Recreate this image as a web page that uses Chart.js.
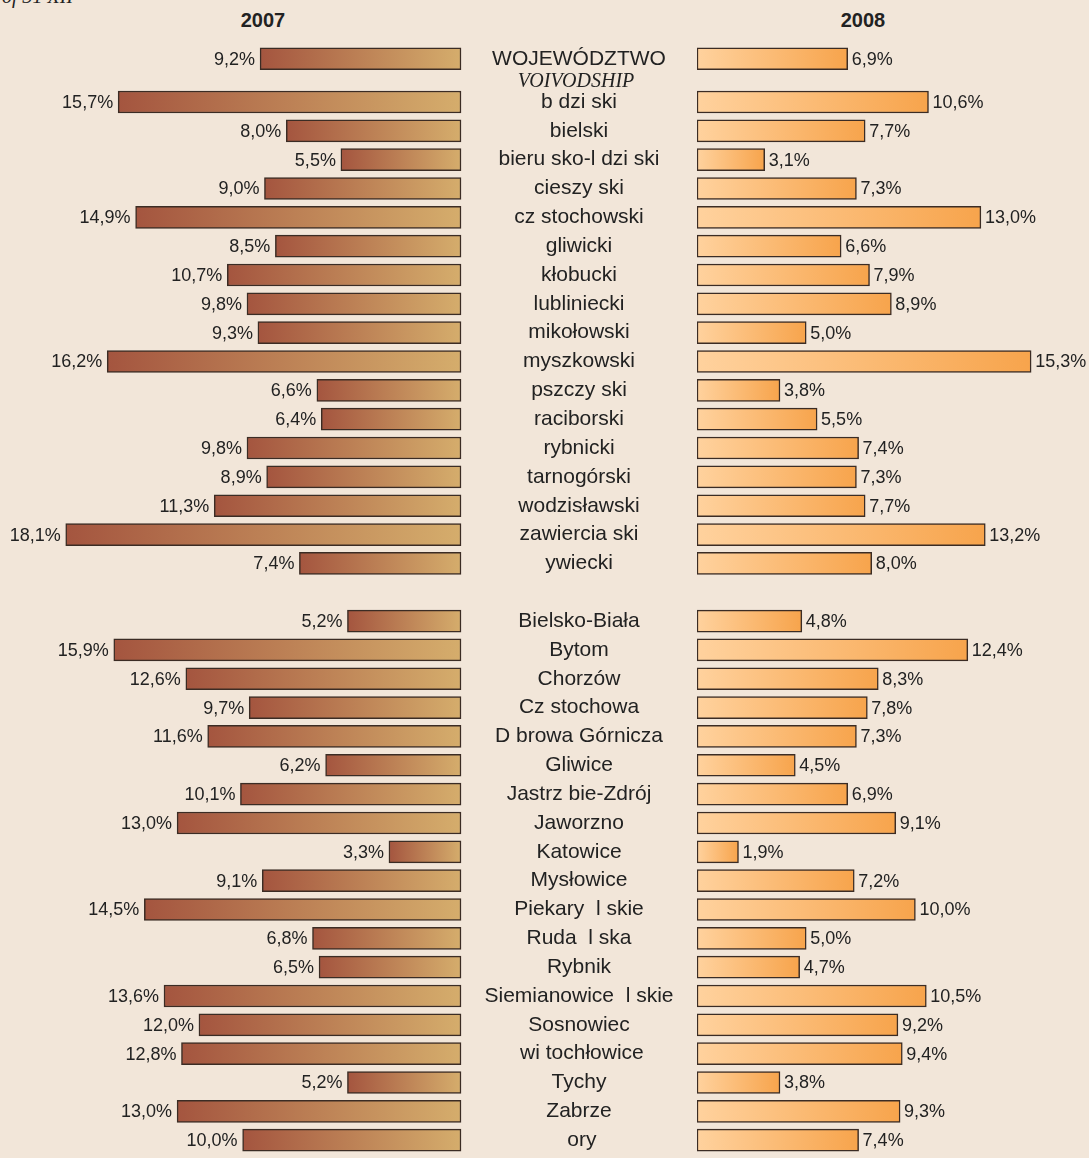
<!DOCTYPE html>
<html>
<head>
<meta charset="utf-8">
<script src="https://cdn.jsdelivr.net/npm/chart.js@4.4.1/dist/chart.umd.min.js"></script>
<style>
html,body{margin:0;padding:0;background:#f2e6d9;width:1089px;height:1158px;overflow:hidden;position:relative}
#w1{position:absolute;left:0;top:0;width:697px;height:1158px}
#w2{position:absolute;left:697px;top:0;width:392px;height:1158px}
.yr{position:absolute;top:10px;width:120px;text-align:center;font-family:"Liberation Sans",Arial,sans-serif;font-weight:bold;font-size:20px;line-height:20px;color:#222}
.it{position:absolute;font-family:"Liberation Serif","Times New Roman",serif;font-style:italic;font-size:20px;line-height:20px;color:#222;white-space:pre}
</style>
</head>
<body>
<div class="it" style="left:2px;top:-14px">of 31 XII</div>
<div class="yr" style="left:203px">2007</div>
<div class="yr" style="left:803px">2008</div>
<div id="w1"><canvas id="c1"></canvas></div>
<div id="w2"><canvas id="c2"></canvas></div>
<div class="it" style="left:476px;top:70px;width:200px;text-align:center">VOIVODSHIP</div>
<script>
// ---- data ----
const headerLabel = 'WOJEWÓDZTWO';
const header2007 = 9.2;
const header2008 = 6.9;

const powiatLabels = ['b dzi ski','bielski','bieru sko-l dzi ski','cieszy ski','cz stochowski','gliwicki','kłobucki','lubliniecki','mikołowski','myszkowski','pszczy ski','raciborski','rybnicki','tarnogórski','wodzisławski','zawiercia ski','ywiecki'];
const powiat2007 = [15.7,8.0,5.5,9.0,14.9,8.5,10.7,9.8,9.3,16.2,6.6,6.4,9.8,8.9,11.3,18.1,7.4];
const powiat2008 = [10.6,7.7,3.1,7.3,13.0,6.6,7.9,8.9,5.0,15.3,3.8,5.5,7.4,7.3,7.7,13.2,8.0];

const cityLabels = ['Bielsko-Biała','Bytom','Chorzów','Cz stochowa','D browa Górnicza','Gliwice','Jastrz bie-Zdrój','Jaworzno','Katowice','Mysłowice','Piekary  l skie','Ruda  l ska','Rybnik','Siemianowice  l skie','Sosnowiec',' wi tochłowice','Tychy','Zabrze',' ory'];
const city2007 = [5.2,15.9,12.6,9.7,11.6,6.2,10.1,13.0,3.3,9.1,14.5,6.8,6.5,13.6,12.0,12.8,5.2,13.0,10.0];
const city2008 = [4.8,12.4,8.3,7.8,7.3,4.5,6.9,9.1,1.9,7.2,10.0,5.0,4.7,10.5,9.2,9.4,3.8,9.3,7.4];

// ---- table built for the library (half-row slots, blanks as spacers) ----
const labels = [], d07 = [], d08 = [];
function push(l, a, b){ labels.push(l); d07.push(a); d08.push(b); }
function gap(n){ for (let i = 0; i < n; i++) push('', null, null); }
push(headerLabel, header2007, header2008);
gap(2);
powiatLabels.forEach((l, i) => { if (i) gap(1); push(l, powiat2007[i], powiat2008[i]); });
gap(3);
cityLabels.forEach((l, i) => { if (i) gap(1); push(l, city2007[i], city2008[i]); });

const FONT = '"Liberation Sans", Arial, sans-serif';
const LABEL_SIZE = 21;
const PAD = {top: 51.5, bottom: 10.6, left: 0, right: 0};

// measure widest label to centre labels inside the 236px middle column
const mctx = document.createElement('canvas').getContext('2d');
mctx.font = LABEL_SIZE + 'px ' + FONT;
let widest = 0;
labels.forEach(l => { widest = Math.max(widest, mctx.measureText(l).width); });
const midPad = Math.max(0, (236 - widest) / 2);

function grad(c0, c1){
  return function(ctx){
    const chart = ctx.chart;
    const v = ctx.raw;
    const xs = chart.scales && chart.scales.x;
    if (v == null || !xs || !chart.chartArea) return c0;
    const p0 = xs.getPixelForValue(0), p1 = xs.getPixelForValue(v);
    const lo = Math.min(p0, p1), hi = Math.max(p0, p1);
    if (!isFinite(lo) || !isFinite(hi) || hi - lo < 1) return c0;
    const g = chart.ctx.createLinearGradient(lo, 0, hi, 0);
    g.addColorStop(0, c0);
    g.addColorStop(1, c1);
    return g;
  };
}

const valueLabels = {
  id: 'valueLabels',
  afterDatasetsDraw(chart, args, opts){
    const ctx = chart.ctx;
    const meta = chart.getDatasetMeta(0);
    const data = chart.data.datasets[0].data;
    ctx.save();
    ctx.font = '18px ' + FONT;
    ctx.fillStyle = '#222';
    ctx.textBaseline = 'middle';
    ctx.textAlign = opts.side === 'left' ? 'right' : 'left';
    meta.data.forEach((el, i) => {
      const v = data[i];
      if (v == null) return;
      const x = opts.side === 'left' ? el.x - 5 : el.x + 4;
      ctx.fillText(v.toFixed(1).replace('.', ',') + '%', x, el.y + 1);
    });
    ctx.restore();
  }
};

const common = {
  responsive: true,
  maintainAspectRatio: false,
  animation: false,
  indexAxis: 'y',
  layout: {padding: PAD}
};

new Chart(document.getElementById('c1'), {
  type: 'bar',
  data: {
    labels: labels,
    datasets: [{
      label: '2007',
      data: d07,
      backgroundColor: grad('#a4553f', '#d5ad6c'),
      borderColor: '#3b2c24',
      borderWidth: 1.5,
      borderSkipped: false,
      barThickness: 22,
      clip: false
    }]
  },
  options: Object.assign({}, common, {
    plugins: {legend: {display: false}, tooltip: {enabled: false}, valueLabels: {side: 'left'}},
    scales: {
      x: {display: false, reverse: true, min: 0, max: 21.11},
      y: {
        position: 'right',
        grid: {display: false, drawTicks: false},
        border: {display: false},
        afterFit: s => { s.width = 236; s.paddingTop = 0; s.paddingBottom = 0; },
        ticks: {
          autoSkip: false,
          crossAlign: 'center',
          padding: midPad,
          color: '#222',
          font: {family: FONT, size: LABEL_SIZE}
        }
      }
    }
  }),
  plugins: [valueLabels]
});

new Chart(document.getElementById('c2'), {
  type: 'bar',
  data: {
    labels: labels,
    datasets: [{
      label: '2008',
      data: d08,
      backgroundColor: grad('#ffd29e', '#f7a44c'),
      borderColor: '#3b2c24',
      borderWidth: 1.5,
      borderSkipped: false,
      barThickness: 22,
      clip: false
    }]
  },
  options: Object.assign({}, common, {
    plugins: {legend: {display: false}, tooltip: {enabled: false}, valueLabels: {side: 'right'}},
    scales: {
      x: {display: false, min: 0, max: 17.95},
      y: {display: false}
    }
  }),
  plugins: [valueLabels]
});
</script>
</body>
</html>
